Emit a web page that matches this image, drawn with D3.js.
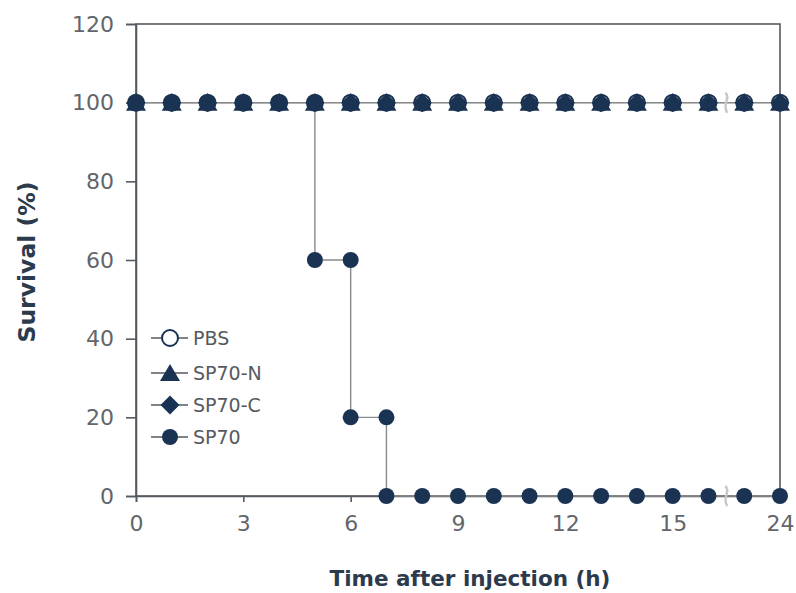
<!DOCTYPE html>
<html>
<head>
<meta charset="utf-8">
<script src="https://cdn.jsdelivr.net/npm/d3@7"></script>
<style>
  html, body { margin: 0; padding: 0; background: #fff; }
  svg { display: block; }
</style>
</head>
<body>
<svg id="chart" width="796" height="593"></svg>
<script>
// Sampling times (h); the axis is broken between 16 h and 23 h
const hours = [0, 1, 2, 3, 4, 5, 6, 7, 8, 9, 10, 11, 12, 13, 14, 15, 16, 23, 24];
const xTicks = [0, 3, 6, 9, 12, 15, 24];
const yTicks = [0, 20, 40, 60, 80, 100, 120];

// Survival (%) per group
const pbs   = [100, 100, 100, 100, 100, 100, 100, 100, 100, 100, 100, 100, 100, 100, 100, 100, 100, 100, 100];
const sp70N = [100, 100, 100, 100, 100, 100, 100, 100, 100, 100, 100, 100, 100, 100, 100, 100, 100, 100, 100];
const sp70C = [100, 100, 100, 100, 100, 100, 100, 100, 100, 100, 100, 100, 100, 100, 100, 100, 100, 100, 100];
// SP70 steps: survival just before and just after each death time
const sp70Times = [0, 1, 2, 3, 4, 5, 5, 6, 6, 7, 7, 8, 9, 10, 11, 12, 13, 14, 15, 16, 23, 24];
const sp70Vals  = [100, 100, 100, 100, 100, 100, 60, 60, 20, 20, 0, 0, 0, 0, 0, 0, 0, 0, 0, 0, 0, 0];

const groups = ["PBS", "SP70-N", "SP70-C", "SP70"];

const navy = "#1b3352";
const lineGrey = "#8a8a8a";
const axisGrey = "#555a60";

const svg = d3.select("#chart");
const plotLeft = 136, plotRight = 780, plotTop = 24, plotBottom = 496;

// Piecewise scale: one hour per step up to 16 h, then one step for the gap and one for the last hour
const step = (plotRight - plotLeft) / 18;
const x = d3.scaleLinear()
  .domain([0, 16, 23, 24])
  .range([plotLeft, plotLeft + 16 * step, plotLeft + 17 * step, plotRight]);
const y = d3.scaleLinear().domain([0, 120]).range([plotBottom, plotTop]);

// Frame
svg.append("rect")
  .attr("x", plotLeft).attr("y", plotTop)
  .attr("width", plotRight - plotLeft).attr("height", plotBottom - plotTop)
  .attr("fill", "none").attr("stroke", axisGrey).attr("stroke-width", 1.6);

// Axes
const font = "'DejaVu Sans', Verdana, sans-serif";
const yAxis = svg.append("g").attr("transform", `translate(${plotLeft},0)`)
  .call(d3.axisLeft(y).tickValues(yTicks).tickSize(10).tickPadding(12));
const xAxis = svg.append("g").attr("transform", `translate(0,${plotBottom})`)
  .call(d3.axisBottom(x).tickValues(xTicks).tickSize(6).tickPadding(13));
[yAxis, xAxis].forEach(g => {
  g.select(".domain").attr("stroke", axisGrey).attr("stroke-width", 1.6);
  g.selectAll(".tick line").attr("stroke", axisGrey).attr("stroke-width", 1.6);
  g.selectAll(".tick text").attr("fill", "#62666b")
    .style("font-family", font).style("font-size", "22px");
});

// Axis titles
svg.append("text")
  .attr("transform", `translate(35,262) rotate(-90)`)
  .attr("text-anchor", "middle")
  .attr("fill", "#2c3a4d")
  .style("font-family", font).style("font-size", "23.5px").style("font-weight", "bold")
  .text("Survival (%)");
svg.append("text")
  .attr("x", 470).attr("y", 586)
  .attr("text-anchor", "middle")
  .attr("fill", "#2c3a4d")
  .style("font-family", font).style("font-size", "21.5px").style("font-weight", "bold")
  .text("Time after injection (h)");

// Lines
const line = d3.line().x(d => x(d[0])).y(d => y(d[1]));
const plot = svg.append("g");
[pbs, sp70N, sp70C].forEach(vals => {
  plot.append("path")
    .datum(hours.map((h, i) => [h, vals[i]]))
    .attr("d", line).attr("fill", "none")
    .attr("stroke", lineGrey).attr("stroke-width", 1.4);
});
plot.append("path")
  .datum(sp70Times.map((t, i) => [t, sp70Vals[i]]))
  .attr("d", line).attr("fill", "none")
  .attr("stroke", lineGrey).attr("stroke-width", 1.4);

// Axis-break marks on the lines between 16 h and 23 h
const xb = (x(16) + x(23)) / 2;
[100, 0].forEach(v => {
  const yb = y(v);
  plot.append("path")
    .attr("d", `M${xb - 1},${yb - 10} C${xb + 5},${yb - 5} ${xb - 5},${yb + 2} ${xb + 1},${yb + 10}`)
    .attr("fill", "none").attr("stroke", "#c8c8c8").attr("stroke-width", 2.4);
});

// Marker shapes
const r = 8;
function drawMarker(g, kind, cx, cy, fill) {
  if (kind === "circle-open") {
    g.append("circle").attr("cx", cx).attr("cy", cy).attr("r", r)
      .attr("fill", fill || "#fff").attr("stroke", navy).attr("stroke-width", 2);
  } else if (kind === "circle") {
    g.append("circle").attr("cx", cx).attr("cy", cy).attr("r", r).attr("fill", navy);
  } else if (kind === "triangle") {
    g.append("path")
      .attr("d", `M${cx},${cy - 9} L${cx + 10},${cy + 8} L${cx - 10},${cy + 8} Z`)
      .attr("fill", navy);
  } else if (kind === "diamond") {
    g.append("path")
      .attr("d", `M${cx},${cy - 9.5} L${cx + 9.5},${cy} L${cx},${cy + 9.5} L${cx - 9.5},${cy} Z`)
      .attr("fill", navy);
  }
}

const kinds = ["circle-open", "triangle", "diamond", "circle"];
const marks = svg.append("g");
// Filled shapes first, then the PBS outline over them, then SP70 on top
hours.forEach((h, i) => drawMarker(marks, "triangle", x(h), y(sp70N[i])));
hours.forEach((h, i) => drawMarker(marks, "diamond", x(h), y(sp70C[i])));
hours.forEach((h, i) => drawMarker(marks, "circle-open", x(h), y(pbs[i]), "none"));
sp70Times.forEach((t, i) => drawMarker(marks, "circle", x(t), y(sp70Vals[i])));

// Legend
const legendY = [338, 373, 405, 437];
const lg = svg.append("g");
groups.forEach((name, i) => {
  const ly = legendY[i];
  lg.append("line").attr("x1", 151).attr("x2", 188).attr("y1", ly).attr("y2", ly)
    .attr("stroke", axisGrey).attr("stroke-width", 1.6);
  drawMarker(lg, kinds[i], 170, ly);
  lg.append("text").attr("x", 193).attr("y", ly + 7)
    .attr("fill", "#555a60")
    .style("font-family", font).style("font-size", "19px")
    .text(name);
});
</script>
</body>
</html>
